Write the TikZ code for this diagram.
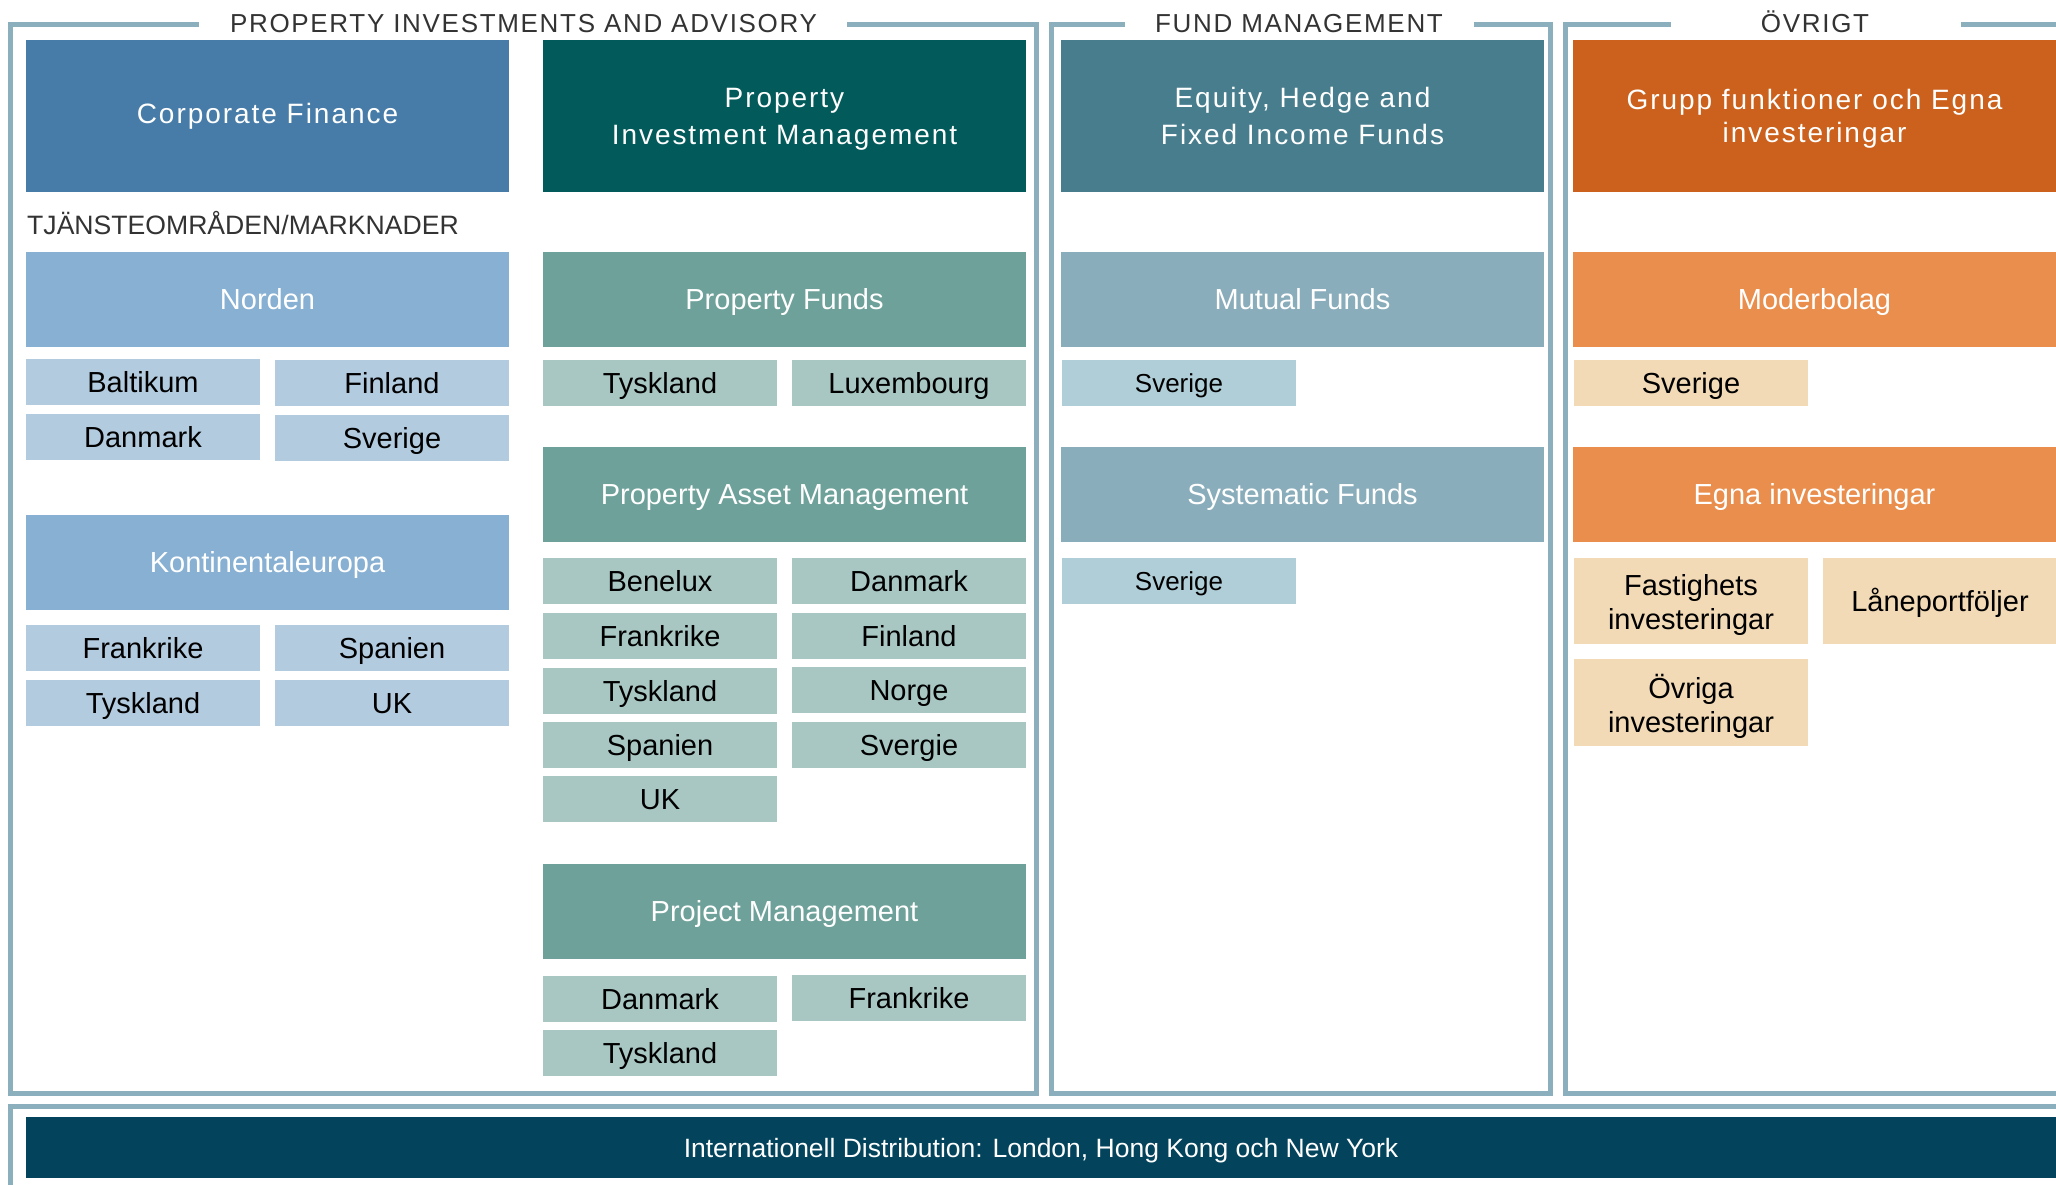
\documentclass[tikz,border=0pt]{standalone}
\usepackage{fontspec}
\setmainfont{Liberation Sans}
\newfontfamily\spacedfont[LetterSpace=7]{Liberation Sans}
\newfontfamily\lblfont[LetterSpace=6.5]{Liberation Sans}
\definecolor{cfblue}{HTML}{477CA8}
\definecolor{pimteal}{HTML}{025B5A}
\definecolor{eqteal}{HTML}{487D8D}
\definecolor{grpor}{HTML}{CB611C}
\definecolor{nordblue}{HTML}{87B0D3}
\definecolor{ltblue}{HTML}{B3CBDF}
\definecolor{subteal}{HTML}{6EA19A}
\definecolor{ltteal}{HTML}{A8C7C3}
\definecolor{fundsub}{HTML}{8AADBB}
\definecolor{ltfund}{HTML}{B0CED8}
\definecolor{subor}{HTML}{E98E4C}
\definecolor{ltor}{HTML}{F3DAB7}
\definecolor{distcol}{HTML}{03445C}
\definecolor{brd}{HTML}{8CAFBD}
\definecolor{lbltext}{HTML}{333333}
\begin{document}
\begin{tikzpicture}[x=1pt,y=-1pt,
  box/.style={rectangle, inner sep=0pt, outer sep=0pt, anchor=north west, align=center},
  hdr/.style={box, minimum width=483pt, minimum height=152pt, text=white,
    font=\spacedfont\fontsize{28}{37}\selectfont},
  sub/.style={box, minimum width=483pt, minimum height=95pt, text=white,
    text height=20.8pt, text depth=0pt, font=\fontsize{29}{34}\selectfont},
  small/.style={box, minimum width=234pt, minimum height=46pt, text=black,
    text height=20.8pt, text depth=0pt, font=\fontsize{29}{34}\selectfont},
  smalltwo/.style={box, minimum width=234pt, text=black,
    font=\fontsize{29}{34}\selectfont},
  border/.style={draw=brd, line width=5pt, line join=miter},
  lbl/.style={anchor=base, inner sep=0pt, text=lbltext,
    font=\lblfont\fontsize{26}{30}\selectfont}
]
\useasboundingbox (0,0) rectangle (2056,1185);
\fill[white] (0,0) rectangle (2056,1185);
\begin{scope}
\clip (0,0) rectangle (2056,1185);
% panel frames
\coordinate (p1a) at (199,25);
\coordinate (p1b) at (847,25);
\coordinate (p2a) at (1125,25);
\coordinate (p2b) at (1474,25);
\coordinate (p3a) at (1671,25);
\coordinate (p3b) at (1961,25);
\draw[border] (p1a) -- (10.5,25) -- (10.5,1093.5) -- (1036,1093.5) -- (1036,25) -- (p1b);
\draw[border] (p2a) -- (1051,25) -- (1051,1093.5) -- (1550,1093.5) -- (1550,25) -- (p2b);
\draw[border] (p3a) -- (1565,25) -- (1565,1093.5) -- (2080,1093.5);
\draw[border] (p3b) -- (2080,25);
\draw[border] (2080,1106.5) -- (10.5,1106.5) -- (10.5,1200);
% panel labels
\node[lbl] (l1) at (523.5,33) {PROPERTY INVESTMENTS AND ADVISORY};
\node[lbl] (l2) at (1299,33) {FUND MANAGEMENT};
\node[lbl] (l3) at (1815,33) {ÖVRIGT};
% top headers
\node[hdr, fill=cfblue] (cf) at (26,40) {Corporate Finance};
\node[hdr, fill=pimteal] (pim) at (543,40) {};
\node[text=white, align=center, inner sep=0pt, font=\spacedfont\fontsize{28}{37}\selectfont, yshift=-3pt] (pimt) at (pim.center) {Property\\Investment Management};
\node[hdr, fill=eqteal] (eq) at (1061,40) {Equity, Hedge and\\Fixed Income Funds};
\node[hdr, fill=grpor] (grp) at (1573,40) {};
\node[text=white, align=center, inner sep=0pt, font=\spacedfont\fontsize{28}{33}\selectfont, yshift=-3pt] (grpt) at (grp.center) {Grupp funktioner och Egna\\investeringar};
\node[anchor=base west, inner sep=0pt, text=lbltext, font=\fontsize{26.6}{30}\selectfont] (tj) at (27,235) {TJÄNSTEOMRÅDEN/MARKNADER};
% column A
\node[sub, fill=nordblue] (nord) at (26,252) {Norden};
\node[small, fill=ltblue] (a1) at (26,359) {Baltikum};
\node[small, fill=ltblue] (a2) at (275,360) {Finland};
\node[small, fill=ltblue] (a3) at (26,414) {Danmark};
\node[small, fill=ltblue] (a4) at (275,415) {Sverige};
\node[sub, fill=nordblue] (kont) at (26,515) {Kontinentaleuropa};
\node[small, fill=ltblue] (a5) at (26,625) {Frankrike};
\node[small, fill=ltblue] (a6) at (275,625) {Spanien};
\node[small, fill=ltblue] (a7) at (26,680) {Tyskland};
\node[small, fill=ltblue] (a8) at (275,680) {UK};
% column B
\node[sub, fill=subteal] (pf) at (543,252) {Property Funds};
\node[small, fill=ltteal] (b1) at (543,360) {Tyskland};
\node[small, fill=ltteal] (b2) at (792,360) {Luxembourg};
\node[sub, fill=subteal] (pam) at (543,447) {Property Asset Management};
\node[small, fill=ltteal] (b3) at (543,558) {Benelux};
\node[small, fill=ltteal] (b4) at (792,558) {Danmark};
\node[small, fill=ltteal] (b5) at (543,613) {Frankrike};
\node[small, fill=ltteal] (b6) at (792,613) {Finland};
\node[small, fill=ltteal] (b7) at (543,668) {Tyskland};
\node[small, fill=ltteal] (b8) at (792,667) {Norge};
\node[small, fill=ltteal] (b9) at (543,722) {Spanien};
\node[small, fill=ltteal] (b10) at (792,722) {Svergie};
\node[small, fill=ltteal] (b11) at (543,776) {UK};
\node[sub, fill=subteal] (pm) at (543,864) {Project Management};
\node[small, fill=ltteal] (b12) at (543,976) {Danmark};
\node[small, fill=ltteal] (b13) at (792,975) {Frankrike};
\node[small, fill=ltteal] (b14) at (543,1030) {Tyskland};
% column C
\node[sub, fill=fundsub] (mf) at (1061,252) {Mutual Funds};
\node[small, fill=ltfund, text height=18.6pt, font=\fontsize{26}{30}\selectfont] (c1) at (1062,360) {Sverige};
\node[sub, fill=fundsub] (sf) at (1061,447) {Systematic Funds};
\node[small, fill=ltfund, text height=18.6pt, font=\fontsize{26}{30}\selectfont] (c2) at (1062,558) {Sverige};
% column D
\node[sub, fill=subor] (mod) at (1573,252) {Moderbolag};
\node[small, fill=ltor] (d1) at (1574,360) {Sverige};
\node[sub, fill=subor] (egna) at (1573,447) {Egna investeringar};
\node[smalltwo, fill=ltor, minimum height=86pt] (d2) at (1574,558) {};
\node[text=black, align=center, inner sep=0pt, font=\fontsize{29}{34}\selectfont, yshift=-3.5pt] (d2t) at (d2.center) {Fastighets\\investeringar};
\node[small, fill=ltor, minimum height=86pt] (d3) at (1823,558) {Låneportföljer};
\node[smalltwo, fill=ltor, minimum height=87pt] (d4) at (1574,659) {};
\node[text=black, align=center, inner sep=0pt, font=\fontsize{29}{34}\selectfont, yshift=-3.5pt] (d4t) at (d4.center) {Övriga\\investeringar};
% distribution
\node[box, fill=distcol, minimum width=2030pt, minimum height=61pt, text=white,
  text height=19pt, text depth=0pt, font=\fontsize{26.5}{30}\selectfont] (dist) at (26,1117)
  {Internationell Distribution: London, Hong Kong och New York};
\end{scope}
\end{tikzpicture}
\end{document}
